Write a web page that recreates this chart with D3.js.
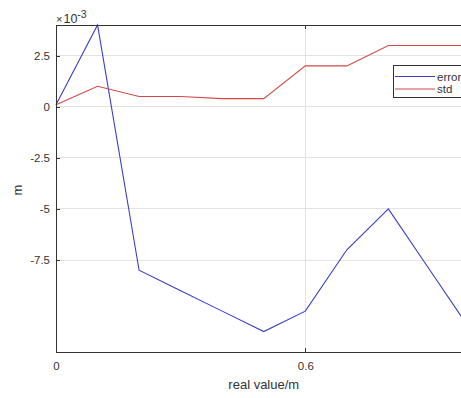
<!DOCTYPE html>
<html><head><meta charset="utf-8">
<script src="https://cdn.jsdelivr.net/npm/d3@7/dist/d3.min.js"></script>
<style>body{margin:0;background:#fff;}svg{display:block;font-family:"Liberation Sans",Arial,sans-serif;}</style>
</head><body>
<script>
const xValues = [0, 0.1, 0.2, 0.3, 0.4, 0.5, 0.6, 0.7, 0.8, 0.9, 1.0];
const errorValues = [0.1e-3, 4e-3, -8e-3, -9e-3, -10e-3, -11e-3, -10e-3, -7e-3, -5e-3, -8e-3, -11e-3];
const stdValues = [0.1e-3, 1e-3, 0.5e-3, 0.5e-3, 0.4e-3, 0.4e-3, 2e-3, 2e-3, 3e-3, 3e-3, 3e-3];
const yTicks = [2.5e-3, 0, -2.5e-3, -5e-3, -7.5e-3];
const yTickLabels = ["2.5", "0", "-2.5", "-5", "-7.5"];
const xTicks = [0, 0.6];
const xTickLabels = ["0", "0.6"];
const seriesNames = ["error", "std"];

const W = 461, H = 398;
const L = 56, R = 471.5, T = 25, B = 352;
const svg = d3.select("body").append("svg").attr("width", W).attr("height", H);
const x = d3.scaleLinear().domain([0, 1]).range([L, R]);
const y = d3.scaleLinear().domain([-0.012, 0.004]).range([B, T]);
const ink = "#333333";
const colors = ["#3c3cc4", "#d44848"];

// grid
const g = svg.append("g");
g.selectAll(".hg").data(yTicks).join("line")
  .attr("x1", L).attr("x2", R).attr("y1", d => y(d)).attr("y2", d => y(d))
  .attr("stroke", "#e3e3e3").attr("stroke-width", 1).attr("shape-rendering", "crispEdges");
g.selectAll(".vg").data(xTicks.filter(d => d > 0)).join("line")
  .attr("x1", d => x(d)).attr("x2", d => x(d)).attr("y1", T).attr("y2", B)
  .attr("stroke", "#e3e3e3").attr("stroke-width", 1).attr("shape-rendering", "crispEdges");

// lines
const line = d3.line().x(d => x(d[0])).y(d => y(d[1]));
[errorValues, stdValues].forEach((vals, i) => {
  svg.append("path").datum(xValues.map((v, j) => [v, vals[j]]))
    .attr("d", line).attr("fill", "none").attr("stroke", colors[i]).attr("stroke-width", 1.1);
});

// axes
const xAxis = d3.axisBottom(x).tickValues(xTicks).tickSize(-4).tickPadding(10)
  .tickFormat((d, i) => xTickLabels[i]);
const gx = svg.append("g").attr("transform", `translate(0,${B})`).call(xAxis);
const yAxis = d3.axisLeft(y).tickValues(yTicks).tickSize(-4).tickPadding(6)
  .tickFormat((d, i) => yTickLabels[i]);
const gy = svg.append("g").attr("transform", `translate(${L},0)`).call(yAxis);
const xTop = d3.axisTop(x).tickValues(xTicks).tickSize(-4).tickFormat("");
const gt = svg.append("g").attr("transform", `translate(0,${T})`).call(xTop);
[gx, gy, gt].forEach(a => {
  a.select(".domain").remove();
  a.selectAll(".tick line").attr("stroke", ink).attr("shape-rendering", "crispEdges");
  a.selectAll("text").attr("fill", ink).attr("font-size", 11.5).attr("font-family", null);
});
svg.append("line").attr("x1", L).attr("x2", R).attr("y1", B).attr("y2", B).attr("stroke", ink).attr("shape-rendering", "crispEdges");
svg.append("line").attr("x1", L).attr("x2", R).attr("y1", T).attr("y2", T).attr("stroke", ink).attr("shape-rendering", "crispEdges");
svg.append("line").attr("x1", L).attr("x2", L).attr("y1", T).attr("y2", B).attr("stroke", ink).attr("shape-rendering", "crispEdges");

// exponent label
const ex = svg.append("text").attr("x", 56).attr("y", 23).attr("fill", ink).attr("font-size", 12.5);
ex.append("tspan").text("\u00d7").attr("font-size", 11);
ex.append("tspan").text("10").attr("dx", 1);
ex.append("tspan").text("-3").attr("font-size", 10.5).attr("dy", -5);

// axis labels
svg.append("text").attr("x", (L + R) / 2).attr("y", 389).attr("text-anchor", "middle")
  .attr("fill", ink).attr("font-size", 13).text("real value/m");
svg.append("text").attr("transform", "translate(22,190) rotate(-90)").attr("text-anchor", "middle")
  .attr("fill", ink).attr("font-size", 13).text("m");

// legend
const lg = svg.append("g");
lg.append("rect").attr("x", 393.5).attr("y", 65.5).attr("width", 90).attr("height", 32)
  .attr("fill", "#fff").attr("stroke", ink).attr("stroke-width", 1);
seriesNames.forEach((n, i) => {
  const yy = 76.5 + i * 12.5;
  lg.append("line").attr("x1", 395).attr("x2", 435).attr("y1", yy).attr("y2", yy)
    .attr("stroke", colors[i]).attr("stroke-width", 1.1);
  lg.append("text").attr("x", 437).attr("y", yy + 4).attr("fill", ink).attr("font-size", 11.5).text(n);
});
</script>
</body></html>
